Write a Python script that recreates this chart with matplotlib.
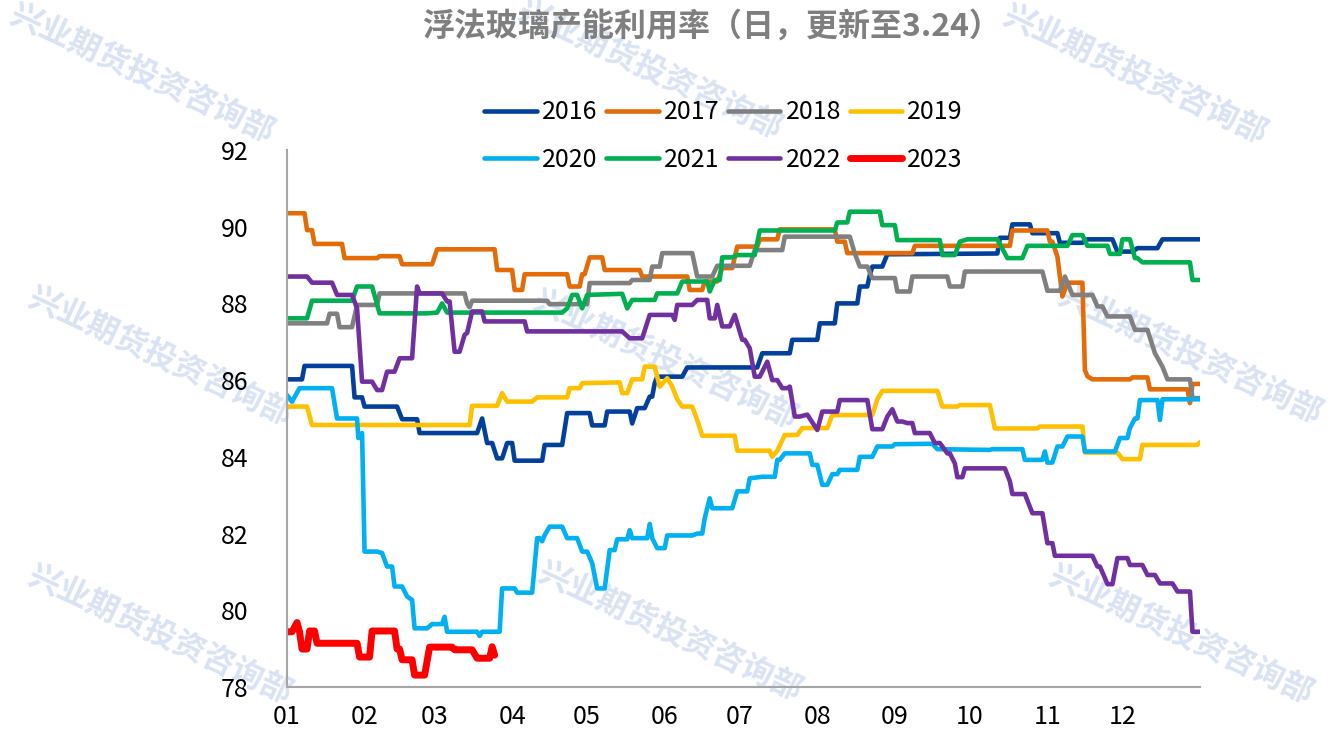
import matplotlib
matplotlib.use("Agg")
import matplotlib.pyplot as plt

plt.rcParams['font.family'] = ['Noto Sans CJK SC', 'DejaVu Sans']

# day of year (0 = Jan 1), utilisation %
pts_2016 = [(0, 86.02), (6, 86.02), (7, 86.37), (26, 86.37), (27, 85.55), (30, 85.55), (31, 85.31), (44, 85.31),
            (46, 84.98), (52, 84.98), (53, 84.62), (76, 84.62), (78, 85.0), (80, 84.36), (82, 84.36), (84, 83.96),
            (86, 83.96), (88, 84.36), (90, 84.36), (91, 83.9), (102, 83.9), (103, 84.31), (110, 84.31), (112, 85.14),
            (121, 85.14), (122, 84.82), (127, 84.82), (128, 85.18), (137, 85.18), (138, 84.87), (140, 85.27),
            (143, 85.27), (145, 85.57), (146, 85.57), (147, 85.92), (148, 86.09), (158, 86.09), (160, 86.33),
            (188, 86.33), (190, 86.7), (201, 86.7), (202, 87.05), (212, 87.05), (213, 87.48), (219, 87.48),
            (220, 88.0), (228, 88.0), (229, 88.44), (232, 88.44), (233, 88.74), (234, 88.96), (238, 88.96),
            (240, 89.28), (284, 89.3), (285, 89.71), (289, 89.71), (290, 90.06), (297, 90.06), (298, 89.83),
            (308, 89.83), (309, 89.58), (318, 89.58), (320, 89.67), (330, 89.67), (332, 89.35), (338, 89.35),
            (340, 89.44), (348, 89.44), (350, 89.67), (365, 89.67)]
pts_2017 = [(0, 90.35), (7, 90.35), (8, 89.91), (10, 89.91), (11, 89.55), (22, 89.55), (23, 89.18), (36, 89.18),
            (37, 89.23), (45, 89.23), (46, 89.02), (58, 89.02), (60, 89.41), (83, 89.41), (84, 88.87), (90, 88.87),
            (91, 88.35), (94, 88.35), (95, 88.76), (112, 88.76), (113, 88.44), (117, 88.44), (118, 88.76),
            (119, 88.76), (121, 89.2), (126, 89.2), (127, 88.87), (141, 88.87), (142, 88.7), (160, 88.7),
            (161, 88.35), (166, 88.35), (167, 88.57), (172, 88.57), (174, 88.92), (178, 88.92), (180, 89.48),
            (188, 89.48), (189, 89.67), (196, 89.67), (197, 89.93), (219, 89.93), (220, 89.61), (223, 89.61),
            (224, 89.31), (250, 89.31), (251, 89.5), (289, 89.5), (290, 89.9), (304, 89.9), (305, 89.61),
            (306, 89.61), (308, 89.22), (310, 88.18), (312, 88.54), (318, 88.54), (319, 86.26), (320, 86.1),
            (322, 86.02), (337, 86.02), (338, 86.07), (344, 86.07), (345, 85.76), (360, 85.76), (361, 85.4),
            (362, 85.9), (365, 85.9)]
pts_2018 = [(0, 87.48), (16, 87.48), (17, 87.73), (20, 87.73), (21, 87.38), (26, 87.38), (28, 87.96), (36, 87.96),
            (37, 88.26), (71, 88.26), (72, 88.0), (73, 87.9), (74, 88.07), (104, 88.07), (105, 87.98), (120, 87.98),
            (121, 88.53), (137, 88.53), (138, 88.61), (145, 88.61), (146, 88.96), (149, 88.96), (150, 89.31),
            (162, 89.31), (164, 88.7), (170, 88.7), (172, 88.98), (185, 88.98), (187, 89.39), (198, 89.39),
            (199, 89.74), (225, 89.74), (227, 89.3), (229, 88.96), (232, 88.96), (234, 88.66), (243, 88.66),
            (244, 88.31), (249, 88.31), (250, 88.7), (264, 88.7), (265, 88.44), (270, 88.44), (271, 88.83),
            (302, 88.83), (304, 88.33), (309, 88.33), (311, 88.7), (314, 88.22), (322, 88.22), (324, 87.92),
            (326, 87.92), (328, 87.66), (337, 87.66), (339, 87.31), (344, 87.31), (347, 86.7), (350, 86.35),
            (352, 86.02), (361, 86.02), (362, 85.53), (365, 85.53)]
pts_2019 = [(0, 85.31), (8, 85.31), (10, 84.83), (73, 84.83), (74, 85.33), (84, 85.33), (86, 85.66), (88, 85.44),
            (98, 85.44), (100, 85.55), (112, 85.55), (113, 85.79), (117, 85.79), (118, 85.92), (133, 85.94),
            (134, 85.66), (136, 85.66), (138, 86.02), (142, 86.02), (143, 86.35), (147, 86.35), (149, 85.83),
            (152, 86.05), (154, 85.83), (156, 85.5), (158, 85.31), (162, 85.31), (164, 84.96), (166, 84.55),
            (179, 84.55), (180, 84.16), (193, 84.16), (194, 84.0), (196, 84.16), (199, 84.57), (204, 84.57),
            (206, 84.75), (216, 84.75), (218, 85.09), (234, 85.09), (236, 85.5), (238, 85.72), (260, 85.72),
            (262, 85.31), (268, 85.31), (269, 85.35), (281, 85.35), (283, 84.74), (300, 84.74), (301, 84.79),
            (318, 84.79), (319, 84.11), (332, 84.11), (334, 83.94), (341, 83.94), (342, 84.31), (364, 84.31),
            (365, 84.38)]
pts_2020 = [(0, 85.61), (2, 85.44), (5, 85.79), (18, 85.79), (20, 85.0), (28, 85.0), (28.5, 84.49), (30, 84.62),
            (31, 81.53), (36, 81.53), (38, 81.49), (40, 81.14), (42, 81.14), (43, 80.62), (46, 80.62), (48, 80.36),
            (50, 80.27), (51, 79.53), (56, 79.53), (58, 79.64), (62, 79.64), (63, 79.83), (64, 79.44), (76, 79.44),
            (77, 79.33), (78, 79.44), (85, 79.44), (86, 80.57), (91, 80.57), (92, 80.46), (98, 80.46), (100, 81.88),
            (101, 81.88), (102, 81.8), (103, 81.96), (105, 82.18), (110, 82.18), (112, 81.88), (116, 81.88),
            (118, 81.53), (120, 81.53), (122, 81.23), (124, 80.57), (127, 80.57), (129, 81.57), (131, 81.57),
            (132, 81.85), (136, 81.85), (137, 82.09), (138, 81.88), (144, 81.88), (145, 82.25), (146, 81.88),
            (148, 81.62), (151, 81.62), (152, 81.95), (162, 81.95), (164, 82.0), (166, 82.0), (167, 82.4),
            (169, 82.92), (170, 82.66), (178, 82.66), (180, 83.1), (184, 83.1), (185, 83.44), (190, 83.48),
            (195, 83.48), (196, 83.92), (197, 83.92), (199, 84.09), (209, 84.09), (210, 83.79), (212, 83.79),
            (214, 83.27), (216, 83.27), (218, 83.55), (220, 83.55), (221, 83.66), (228, 83.66), (229, 84.0),
            (234, 84.0), (236, 84.27), (242, 84.27), (243, 84.33), (258, 84.34), (260, 84.2), (281, 84.18),
            (282, 84.2), (294, 84.2), (295, 83.92), (302, 83.92), (303, 84.14), (304, 83.85), (306, 83.85),
            (308, 84.27), (310, 84.27), (312, 84.53), (318, 84.53), (319, 84.14), (331, 84.14), (333, 84.49),
            (336, 84.49), (337, 84.75), (339, 85.0), (340, 85.0), (341, 85.48), (348, 85.48), (349, 84.96),
            (350, 85.5), (365, 85.5)]
pts_2021 = [(0, 87.61), (8, 87.61), (10, 88.07), (26, 88.07), (28, 88.44), (34, 88.44), (37, 87.74), (56, 87.74),
            (60, 87.76), (62, 88.0), (64, 87.76), (110, 87.76), (112, 87.87), (114, 88.22), (116, 88.22),
            (118, 87.87), (120, 88.22), (134, 88.25), (136, 87.87), (138, 88.09), (147, 88.09), (148, 88.26),
            (156, 88.26), (158, 88.57), (168, 88.57), (169, 88.31), (171, 88.61), (173, 88.61), (174, 89.2),
            (178, 89.2), (180, 89.26), (187, 89.26), (189, 89.9), (219, 89.9), (220, 90.11), (224, 90.11),
            (225, 90.39), (237, 90.39), (238, 90.04), (243, 90.04), (244, 89.65), (261, 89.65), (262, 89.26),
            (267, 89.26), (269, 89.61), (272, 89.67), (284, 89.67), (288, 89.18), (294, 89.18), (296, 89.5),
            (312, 89.5), (314, 89.78), (318, 89.78), (320, 89.5), (328, 89.5), (329, 89.29), (333, 89.29),
            (334, 89.67), (337, 89.67), (339, 89.18), (340, 89.18), (342, 89.07), (361, 89.07), (362, 88.61),
            (365, 88.61)]
pts_2022 = [(0, 88.7), (8, 88.7), (10, 88.54), (18, 88.54), (20, 88.22), (26, 88.22), (28, 87.87), (30, 85.96),
            (34, 85.96), (36, 85.74), (38, 85.74), (40, 86.22), (43, 86.22), (45, 86.57), (50, 86.57), (52, 88.44),
            (53, 88.26), (62, 88.26), (64, 88.05), (65, 88.05), (67, 86.74), (69, 86.74), (71, 87.18), (72, 87.23),
            (74, 87.79), (78, 87.79), (79, 87.53), (95, 87.53), (96, 87.27), (134, 87.27), (137, 87.09),
            (142, 87.09), (145, 87.7), (154, 87.7), (155, 87.57), (156, 87.96), (162, 87.96), (164, 88.09),
            (168, 88.09), (169, 87.61), (171, 87.61), (172, 87.96), (174, 87.4), (177, 87.4), (179, 87.7),
            (182, 87.05), (183, 87.05), (185, 86.83), (187, 86.09), (189, 86.09), (192, 86.48), (194, 86.0),
            (196, 86.0), (198, 85.79), (200, 85.79), (201, 85.83), (203, 85.05), (205, 85.05), (208, 85.1),
            (212, 84.7), (214, 85.18), (220, 85.18), (221, 85.48), (232, 85.48), (234, 84.72), (238, 84.72),
            (240, 85.05), (242, 85.24), (244, 84.92), (246, 84.92), (248, 84.88), (250, 84.88), (251, 84.62),
            (257, 84.62), (259, 84.36), (261, 84.36), (264, 84.09), (265, 84.09), (267, 83.83), (268, 83.47),
            (270, 83.47), (271, 83.7), (287, 83.7), (289, 83.36), (290, 83.03), (295, 83.03), (298, 82.53),
            (302, 82.53), (304, 81.75), (306, 81.75), (307, 81.42), (322, 81.42), (324, 81.14), (325, 81.14),
            (327, 80.84), (328, 80.68), (330, 80.68), (332, 81.36), (336, 81.36), (337, 81.18), (342, 81.18),
            (344, 80.92), (347, 80.92), (349, 80.7), (354, 80.7), (356, 80.49), (361, 80.49), (362, 79.44),
            (365, 79.44)]
pts_2023 = [(0, 79.44), (2, 79.44), (4, 79.68), (5, 79.44), (6, 78.99), (8, 78.99), (9, 79.46), (11, 79.46),
            (12, 79.14), (28, 79.14), (29, 78.78), (33, 78.78), (34, 79.46), (43, 79.46), (44, 78.99), (45, 78.99),
            (46, 78.71), (50, 78.71), (51, 78.31), (55, 78.31), (57, 79.04), (66, 79.04), (67, 78.97), (74, 78.97),
            (76, 78.75), (81, 78.75), (82, 79.05), (83, 78.83)]

years = ['2016', '2017', '2018', '2019', '2020', '2021', '2022', '2023']
colors = ['#03409b', '#e36c09', '#808080', '#ffc000', '#00b0f0', '#00b050', '#7030a0', '#ff0000']
series = [pts_2016, pts_2017, pts_2018, pts_2019, pts_2020, pts_2021, pts_2022, pts_2023]

month_starts = [0, 31, 59, 90, 120, 151, 181, 212, 243, 273, 304, 334]
month_labels = ['01', '02', '03', '04', '05', '06', '07', '08', '09', '10', '11', '12']

# watermark centres (figure fraction)
wm_pos = [(0.106, 0.90), (0.485, 0.905), (0.847, 0.898),
          (0.119, 0.515), (0.496, 0.51), (0.888, 0.517),
          (0.119, 0.136), (0.5, 0.14), (0.881, 0.136)]

fig = plt.figure(figsize=(13.4, 7.35), dpi=100)
for wx, wy in wm_pos:
    fig.text(wx, wy, '兴业期货投资咨询部', rotation=-25, fontsize=23, fontweight='bold',
             color='#dae3f3', ha='center', va='center', rotation_mode='anchor', zorder=0)

ax = fig.add_axes([0.2142, 0.0653, 0.6813, 0.7307])
ax.set_zorder(2)
ax.patch.set_alpha(0)

handles = {}
for yr, col, pts in zip(years, colors, series):
    xs = [p[0] for p in pts]
    ys = [p[1] for p in pts]
    lw = 5.0 if yr == '2023' else 3.3
    handles[yr], = ax.plot(xs, ys, color=col, lw=lw, label=yr,
                           solid_capstyle='round', solid_joinstyle='round')

ax.set_xlim(0, 365)
ax.set_ylim(78, 92)
ax.set_yticks(range(78, 93, 2))
ax.set_xticks(month_starts)
ax.set_xticklabels(month_labels)
ax.tick_params(length=0, labelsize=18, colors='black')
ax.tick_params(axis='y', pad=28)
ax.tick_params(axis='x', pad=12)
for s in ['top', 'right']:
    ax.spines[s].set_visible(False)
for s in ['left', 'bottom']:
    ax.spines[s].set_color('#a6a6a6')
    ax.spines[s].set_linewidth(1.5)

# legend fills column-wise, so interleave to get row order 2016..2019 / 2020..2023
leg_order = ['2016', '2020', '2017', '2021', '2018', '2022', '2019', '2023']
leg = fig.legend([handles[y] for y in leg_order], leg_order, loc='center', bbox_to_anchor=(0.54, 0.815),
                 ncol=4, frameon=False, fontsize=18, handlelength=2.1, handletextpad=0.2,
                 columnspacing=0.35, labelspacing=0.85)
leg.set_zorder(3)

fig.text(0.531, 0.963, '浮法玻璃产能利用率（日，更新至3.24）', ha='center', va='center',
         fontsize=23, fontweight='bold', color='#7f7f7f', zorder=3)

fig.savefig('out.png', dpi=100)
